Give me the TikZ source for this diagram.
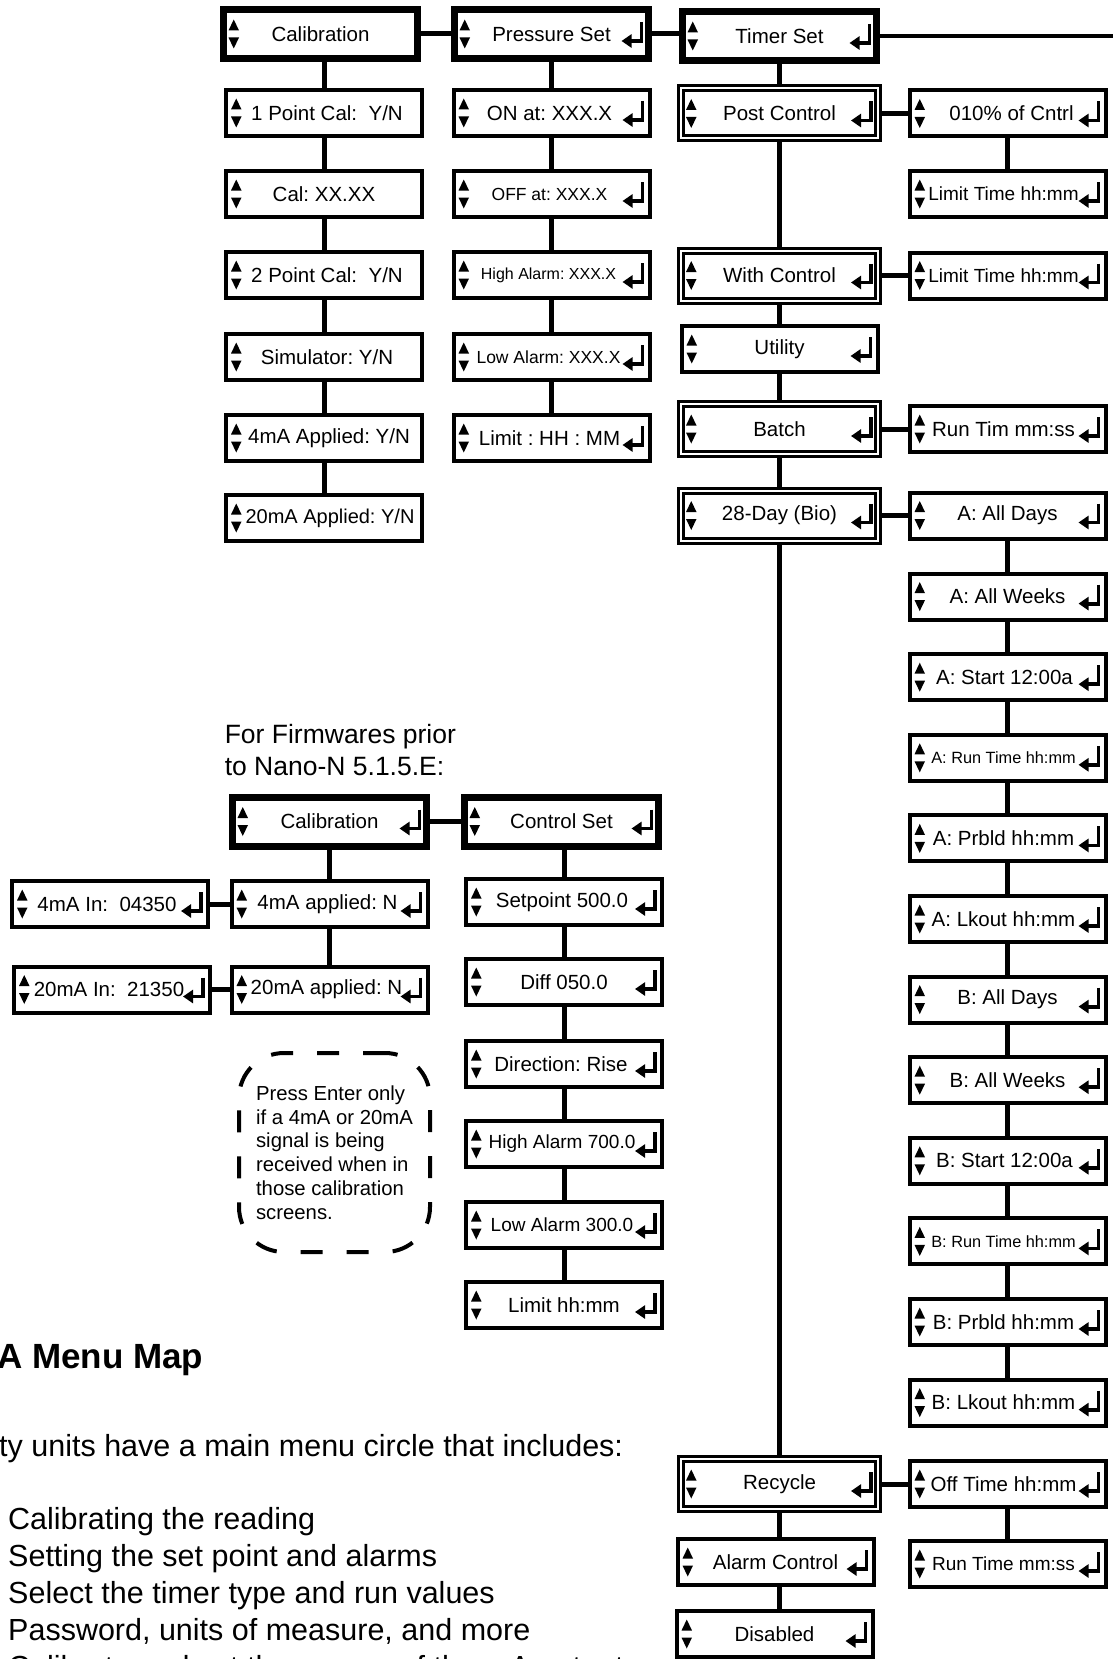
\documentclass[tikz,border=0pt]{standalone}
\usepackage{fontspec}
\setmainfont{Liberation Sans}
\usepackage{tikz}
\usetikzlibrary{arrows.meta, positioning}
\frenchspacing
\newcommand{\boxFont}{\fontsize{20.5}{24}\selectfont}
\newcommand{\upDown}{%
  \fill ([xshift=5pt,yshift=3.5pt]path picture bounding box.west) -- ++(10.5pt,0pt) -- ++(-5.25pt,11pt) -- cycle;
  \fill ([xshift=5pt,yshift=-3.5pt]path picture bounding box.west) -- ++(10.5pt,0pt) -- ++(-5.25pt,-11pt) -- cycle;}
\newcommand{\enterKey}{%
  \draw[->, line width=3.8pt, line join=miter] ([xshift=-7pt,yshift=12pt]path picture bounding box.east) -- ++(0pt,-19pt) -- ++(-20pt,0pt);}
\tikzset{
    menuBox/.style={draw, line width=4pt, minimum width=196pt, minimum height=46pt, inner sep=0pt, font=\boxFont, path picture={\upDown}},
    enterBox/.style={menuBox, path picture={\upDown\enterKey}},
    thickBox/.style={line width=7pt, minimum width=194pt, minimum height=49pt, outer sep=3.5pt},
    dblBox/.style={double, line width=3pt, double distance=2pt, minimum width=197pt, minimum height=50pt, outer sep=4pt},
    linkLine/.style={line width=5pt},
    noteBox/.style={draw, dash pattern=on 22pt off 24pt, line width=4pt, rounded corners=45pt, minimum width=191pt, minimum height=199pt, align=left, font=\fontsize{20.3}{23.8}\selectfont}
}
\begin{document}
\begin{tikzpicture}[x=1pt, y=-1pt, >={Triangle[length=10pt, width=13pt]}]
    \useasboundingbox (0,0) rectangle (1113,1659);
    \clip (0,0) rectangle (1113,1659);
    \coordinate (EdgeR) at (1113,36);
    % top row
    \node[menuBox, thickBox] (CalTop) at (320.5,34) {Calibration};
    \node[enterBox, thickBox] (PressSet) at (551.5,34) {Pressure Set};
    \node[enterBox, thickBox] (TimerSet) at (779.5,36) {Timer Set};
    % calibration column
    \node[menuBox] (PtCal1) at (324,113) {\hspace*{6pt}1 Point Cal:\ \ Y/N};
    \node[menuBox] (CalVal) at (324,194) {Cal: XX.XX};
    \node[menuBox] (PtCal2) at (324,275) {\hspace*{6pt}2 Point Cal:\ \ Y/N};
    \node[menuBox] (SimOn) at (324,357) {\hspace*{6pt}Simulator: Y/N};
    \node[menuBox] (Appl4) at (324,438) {\hspace*{10pt}4mA Applied: Y/N};
    \node[menuBox, font=\fontsize{20}{24}\selectfont] (Appl20) at (324,518) {\hspace*{12pt}20mA Applied: Y/N};
    % pressure column
    \node[enterBox] (OnAt) at (551.5,113) {ON at: XXX.X\hspace*{4pt}};
    \node[enterBox, font=\fontsize{17.5}{20}\selectfont] (OffAt) at (551.5,194) {OFF at: XXX.X\hspace*{4pt}};
    \node[enterBox, font=\fontsize{16}{19}\selectfont] (HighAlm) at (551.5,275) {High Alarm: XXX.X\hspace*{6pt}};
    \node[enterBox, font=\fontsize{17.5}{20}\selectfont] (LowAlm) at (551.5,357) {Low Alarm: XXX.X\hspace*{6pt}};
    \node[enterBox] (LimHHMM) at (551.5,438) {\hspace*{4pt}Limit : HH : MM\hspace*{8pt}};
    % timer column
    \node[enterBox, dblBox] (PostCtl) at (779.5,113.5) {Post Control};
    \node[enterBox, dblBox] (WithCtl) at (779.5,275.5) {With Control};
    \node[enterBox] (Utility) at (779.5,349) {Utility};
    \node[enterBox, dblBox] (Batch) at (779.5,429) {Batch};
    \node[enterBox, dblBox] (BioDay) at (779.5,515.5) {28-Day (Bio)};
    \node[enterBox, dblBox] (Recycle) at (779.5,1484) {Recycle};
    \node[enterBox] (AlarmCtl) at (775.5,1562) {Alarm Control};
    \node[enterBox] (Disabled) at (774.5,1634) {Disabled};
    % timer options
    \node[enterBox] (PctCtl) at (1007.5,113.5) {\hspace*{8pt}010\% of Cntrl};
    \node[enterBox, font=\fontsize{19}{22}\selectfont] (LimTime1) at (1007.5,194) {Limit Time hh:mm\hspace*{8pt}};
    \node[enterBox, font=\fontsize{19}{22}\selectfont] (LimTime2) at (1007.5,275.5) {Limit Time hh:mm\hspace*{8pt}};
    \node[enterBox] (RunTim) at (1007.5,429) {Run Tim mm:ss\hspace*{8pt}};
    \node[enterBox] (ADays) at (1007.5,515.5) {A: All Days};
    \node[enterBox] (AWeeks) at (1007.5,596.6) {A: All Weeks};
    \node[enterBox] (AStart) at (1007.5,677.2) {A: Start 12:00a\hspace*{6pt}};
    \node[enterBox, font=\fontsize{16.3}{19}\selectfont] (ARun) at (1007.5,757.8) {A: Run Time hh:mm\hspace*{8pt}};
    \node[enterBox] (APrbld) at (1007.5,838.4) {A: Prbld hh:mm\hspace*{8pt}};
    \node[enterBox] (ALkout) at (1007.5,919) {A: Lkout hh:mm\hspace*{8pt}};
    \node[enterBox] (BDays) at (1007.5,999.6) {B: All Days};
    \node[enterBox] (BWeeks) at (1007.5,1080.2) {B: All Weeks};
    \node[enterBox] (BStart) at (1007.5,1160.8) {B: Start 12:00a\hspace*{6pt}};
    \node[enterBox, font=\fontsize{16.3}{19}\selectfont] (BRun) at (1007.5,1241.4) {B: Run Time hh:mm\hspace*{8pt}};
    \node[enterBox] (BPrbld) at (1007.5,1322) {B: Prbld hh:mm\hspace*{8pt}};
    \node[enterBox] (BLkout) at (1007.5,1402.6) {B: Lkout hh:mm\hspace*{8pt}};
    \node[enterBox] (OffTime) at (1007.5,1484) {Off Time hh:mm\hspace*{8pt}};
    \node[enterBox, font=\fontsize{19}{22}\selectfont] (RunTime) at (1007.5,1564) {Run Time mm:ss\hspace*{8pt}};
    % older firmware
    \node[anchor=north west, inner sep=0pt, align=left, font=\fontsize{26.5}{32.5}\selectfont] (FwNote) at (224.6,724) {For Firmwares prior\\to Nano-N 5.1.5.E:};
    \node[enterBox, thickBox] (CalOld) at (329.5,821.5) {Calibration};
    \node[enterBox, thickBox] (CtrlSet) at (561.5,821.5) {Control Set};
    \node[enterBox] (Appl4N) at (329.5,904) {\hspace*{4pt}4mA applied: N\hspace*{8pt}};
    \node[enterBox] (In4) at (110,904) {4mA In:\ \ 04350\hspace*{6pt}};
    \node[enterBox] (Appl20N) at (329.5,989.5) {\hspace*{4pt}20mA applied: N\hspace*{10pt}};
    \node[enterBox] (In20) at (112,989.5) {\hspace*{4pt}20mA In:\ \ 21350\hspace*{10pt}};
    \node[enterBox] (SetPt) at (564,902) {Setpoint 500.0\hspace*{4pt}};
    \node[enterBox] (Diff) at (564,982) {Diff 050.0};
    \node[enterBox] (Direc) at (564,1064) {Direction: Rise\hspace*{6pt}};
    \node[enterBox, font=\fontsize{19}{22}\selectfont] (HighSet) at (564,1144) {\hspace*{4pt}High Alarm 700.0\hspace*{8pt}};
    \node[enterBox, font=\fontsize{19}{22}\selectfont] (LowSet) at (564,1225) {\hspace*{4pt}Low Alarm 300.0\hspace*{8pt}};
    \node[enterBox] (LimSet) at (564,1305) {Limit hh:mm};
    \node[noteBox] (PressNote) at (334.5,1152.5) {Press Enter only\\if a 4mA or 20mA\\signal is being\\received when in\\those calibration\\screens.};
    % page text
    \node[anchor=base west, inner sep=0pt, font=\fontsize{35}{42}\selectfont\bfseries] (MapTitle) at (-3,1368) {A Menu Map};
    \node[anchor=base west, inner sep=0pt, font=\fontsize{30.5}{37}\selectfont] (IntroLine) at (-1,1456) {ty units have a main menu circle that includes:};
    \node[anchor=north west, inner sep=0pt, align=left, font=\fontsize{30.5}{37}\selectfont] (ItemList) at (8,1507) {Calibrating the reading\\Setting the set point and alarms\\Select the timer type and run values\\Password, units of measure, and more\\Calibrate and set the ranges of the mA output};
    % connectors
    \draw[linkLine] (CalTop) -- (PressSet);
    \draw[linkLine] (PressSet.east) -- (PressSet.east -| TimerSet.west);
    \draw[line width=4pt] (TimerSet.east) -- (EdgeR);
    \draw[linkLine] (PtCal1.north |- CalTop.south) -- (PtCal1.north);
    \draw[linkLine] (PtCal1) -- (CalVal) -- (PtCal2) -- (SimOn) -- (Appl4) -- (Appl20);
    \draw[linkLine] (PressSet) -- (OnAt) -- (OffAt) -- (HighAlm) -- (LowAlm) -- (LimHHMM);
    \draw[linkLine] (TimerSet) -- (PostCtl) -- (WithCtl) -- (Utility) -- (Batch) -- (BioDay) -- (Recycle);
    \draw[linkLine] (Recycle.south) -- (Recycle.south |- AlarmCtl.north);
    \draw[linkLine] (Recycle.south |- AlarmCtl.south) -- (Recycle.south |- Disabled.north);
    \draw[linkLine] (PostCtl) -- (PctCtl) -- (LimTime1);
    \draw[linkLine] (WithCtl) -- (LimTime2);
    \draw[linkLine] (Batch) -- (RunTim);
    \draw[linkLine] (BioDay) -- (ADays) -- (AWeeks) -- (AStart) -- (ARun) -- (APrbld) -- (ALkout) -- (BDays) -- (BWeeks) -- (BStart) -- (BRun) -- (BPrbld) -- (BLkout);
    \draw[linkLine] (Recycle) -- (OffTime) -- (RunTime);
    \draw[linkLine] (CalOld) -- (CtrlSet);
    \draw[linkLine] (CalOld) -- (Appl4N) -- (Appl20N);
    \draw[linkLine] (In4) -- (Appl4N);
    \draw[linkLine] (In20) -- (Appl20N);
    \draw[linkLine] (SetPt.north |- CtrlSet.south) -- (SetPt.north);
    \draw[linkLine] (SetPt) -- (Diff) -- (Direc) -- (HighSet) -- (LowSet) -- (LimSet);
\end{tikzpicture}
\end{document}
